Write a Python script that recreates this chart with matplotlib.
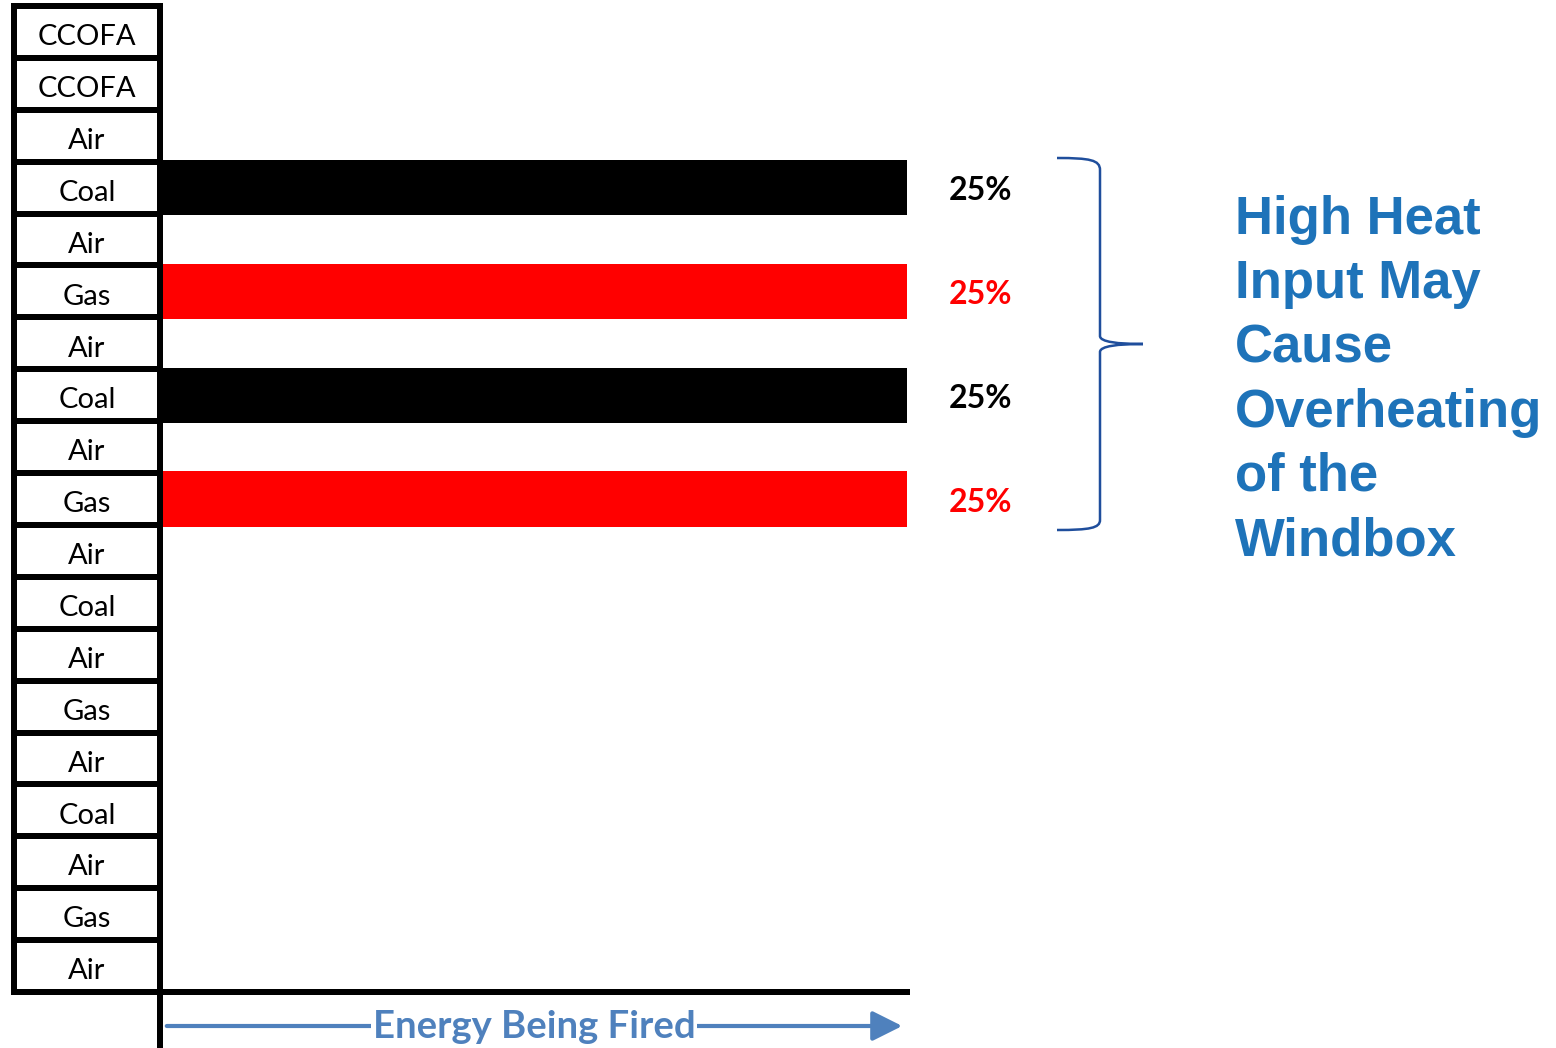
import matplotlib
matplotlib.use('Agg')
import matplotlib.pyplot as plt
from matplotlib.lines import Line2D
from matplotlib.patches import PathPatch, FancyArrowPatch
from matplotlib.path import Path

# Adatok: a tüzelőtér sorai felülről lefelé
rows = ['CCOFA', 'CCOFA', 'Air', 'Coal', 'Air', 'Gas', 'Air', 'Coal', 'Air', 'Gas',
        'Air', 'Coal', 'Air', 'Gas', 'Air', 'Coal', 'Air', 'Gas', 'Air']
energy = [0, 0, 0, 25, 0, 25, 0, 25, 0, 25, 0, 0, 0, 0, 0, 0, 0, 0, 0]
fuel_colors = {'Coal': 'black', 'Gas': '#ff0000'}
x_max = 25

note_lines = ['High Heat', 'Input May', 'Cause', 'Overheating', 'of the', 'Windbox']
axis_note = 'Energy Being Fired'

W, H = 1556, 1048
lw = 4.32  # kb. 6 px


def fx(px):
    return px / W


def fy(py):
    return 1 - py / H


fig = plt.figure(figsize=(W / 100, H / 100), dpi=100, facecolor='white')

# Bal oldali oszlop a feliratokkal
ax_lab = fig.add_axes([fx(14), fy(992), fx(160) - fx(14), fy(6) - fy(992)])
ax_lab.set_xlim(0, 1)
ax_lab.set_ylim(len(rows) - 0.5, -0.5)
ax_lab.set_xticks([])
ax_lab.set_yticks([])
for sp in ax_lab.spines.values():
    sp.set_linewidth(lw)
for i in range(len(rows) - 1):
    ax_lab.axhline(i + 0.5, color='black', lw=lw)
for i, r in enumerate(rows):
    ax_lab.text(0.5, i + 0.1, r, ha='center', va='center', fontsize=21,
                family='Lato', color='black')
ax_lab.set_zorder(3)

# Sávok
ax = fig.add_axes([fx(160), fy(992), fx(907) - fx(160), fy(6) - fy(992)])
ax.set_facecolor('none')
ax.set_xlim(0, x_max)
ax.set_ylim(len(rows) - 0.5, -0.5)
ax.set_xticks([])
ax.set_yticks([])
for s in ['top', 'right', 'left']:
    ax.spines[s].set_visible(False)
ax.spines['bottom'].set_linewidth(lw)

for i, (r, e) in enumerate(zip(rows, energy)):
    if e > 0:
        c = fuel_colors[r]
        ax.barh(i, e, height=1.06, color=c, zorder=1)
        ax.text(e + 1.4, i + 0.06, f'{e}%', ha='left', va='center', fontsize=23,
                family='Lato', fontweight='bold', color=c, clip_on=False)

# Függőleges vonal lefelé meghosszabbítva
fig.add_artist(Line2D([fx(160), fx(160)], [0, fy(990)], color='black', lw=lw, zorder=5))

# Kapcsos zárójel
brace = [(1057, 158), (1090, 158), (1100, 160), (1100, 170),
         (1100, 336), (1100, 342), (1118, 344), (1143, 344),
         (1118, 344), (1100, 346), (1100, 352),
         (1100, 520), (1100, 528), (1090, 530), (1057, 530)]
codes = [Path.MOVETO, Path.CURVE4, Path.CURVE4, Path.CURVE4,
         Path.LINETO, Path.CURVE4, Path.CURVE4, Path.CURVE4,
         Path.CURVE4, Path.CURVE4, Path.CURVE4,
         Path.LINETO, Path.CURVE4, Path.CURVE4, Path.CURVE4]
verts = [(fx(a), fy(b)) for a, b in brace]
fig.add_artist(PathPatch(Path(verts, codes), transform=fig.transFigure,
                         facecolor='none', edgecolor='#1f4e9c', lw=1.8))

# Magyarázó szöveg
for k, t in enumerate(note_lines):
    fig.text(fx(1235), fy(234 + 64.2 * k), t, ha='left', va='baseline',
             fontsize=38, family='Liberation Sans', fontweight='bold', color='#1e73b9')

# Alsó nyíl
fig.add_artist(FancyArrowPatch(
    (fx(164), fy(1026)), (fx(905), fy(1026)), transform=fig.transFigure,
    arrowstyle='-|>,head_length=1.3,head_width=0.65', mutation_scale=14,
    color='#4f81bd', lw=3))
fig.text(fx(534), fy(1038), axis_note, ha='center', va='baseline', fontsize=27.5,
         family='Lato', fontweight='bold', color='#4f81bd',
         bbox=dict(facecolor='white', edgecolor='none', pad=1))

fig.savefig('out.png', dpi=100, facecolor='white')
